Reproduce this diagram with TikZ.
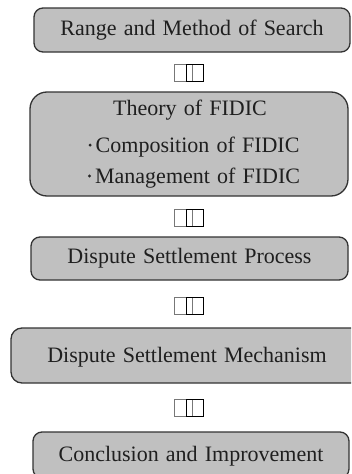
\documentclass[tikz,border=0pt]{standalone}
\usepackage{fontspec}
\setmainfont[WordSpace=1.3]{Liberation Serif}
\definecolor{boxfill}{HTML}{C0C0C0}
\definecolor{boxline}{HTML}{333333}
\definecolor{tofugray}{HTML}{777777}
\newcommand{\bulletdot}{\raisebox{0.26em}{\tikz\fill[black!85] (0,0) circle (1.6pt);}\hspace{4pt}}
\tikzset{
  boxfont/.style={font=\fontsize{22}{26}\selectfont, text=black!88},
  stepbox/.style={draw=boxline, line width=1.3pt, fill=boxfill, inner sep=0pt, boxfont},
  tofuL/.style={draw=tofugray, line width=0.9pt, minimum width=18pt, minimum height=17pt, inner sep=0pt},
  tofuR/.style={draw=black, line width=0.9pt, minimum width=17pt, minimum height=17pt, inner sep=0pt},
}
\begin{document}
\begin{tikzpicture}[x=1pt,y=-1pt]
\useasboundingbox (0,0) rectangle (351,474);
\clip (0,0) rectangle (351,474);
% box 1
\node[stepbox, rounded corners=9pt, minimum width=316pt, minimum height=44pt] (b1) at (192,30) {Range and Method of Search};
% box 2
\node[stepbox, rounded corners=17pt, minimum width=318pt, minimum height=104pt] (b2) at (189,144) {};
\node[boxfont] (t1) at (190,110) {Theory of FIDIC};
\node[boxfont] (t2) at (194,147) {\bulletdot Composition of FIDIC};
\node[boxfont] (t3) at (194,178) {\bulletdot Management of FIDIC};
% box 3
\node[stepbox, rounded corners=9pt, minimum width=317pt, minimum height=43pt] (b3) at (189.5,258.5) {Dispute Settlement Process};
% box 4
\node[stepbox, rounded corners=11pt, minimum width=355pt, minimum height=55pt] (b4) at (188.5,355.5) {};
\node[boxfont] (t4) at (187,357) {Dispute Settlement Mechanism};
% box 5
\node[stepbox, rounded corners=9pt, minimum width=316pt, minimum height=46pt] (b5) at (191,455) {};
\node[boxfont] (t5) at (191,456) {Conclusion and Improvement};
% tofu glyph pairs
\foreach \n/\y in {1/72.5,2/217.5,3/305.5,4/408} {
  \node[tofuL] (gl\n) at (183,\y) {};
  \node[tofuR] (gr\n) at (194.5,\y) {};
}
\end{tikzpicture}
\end{document}
